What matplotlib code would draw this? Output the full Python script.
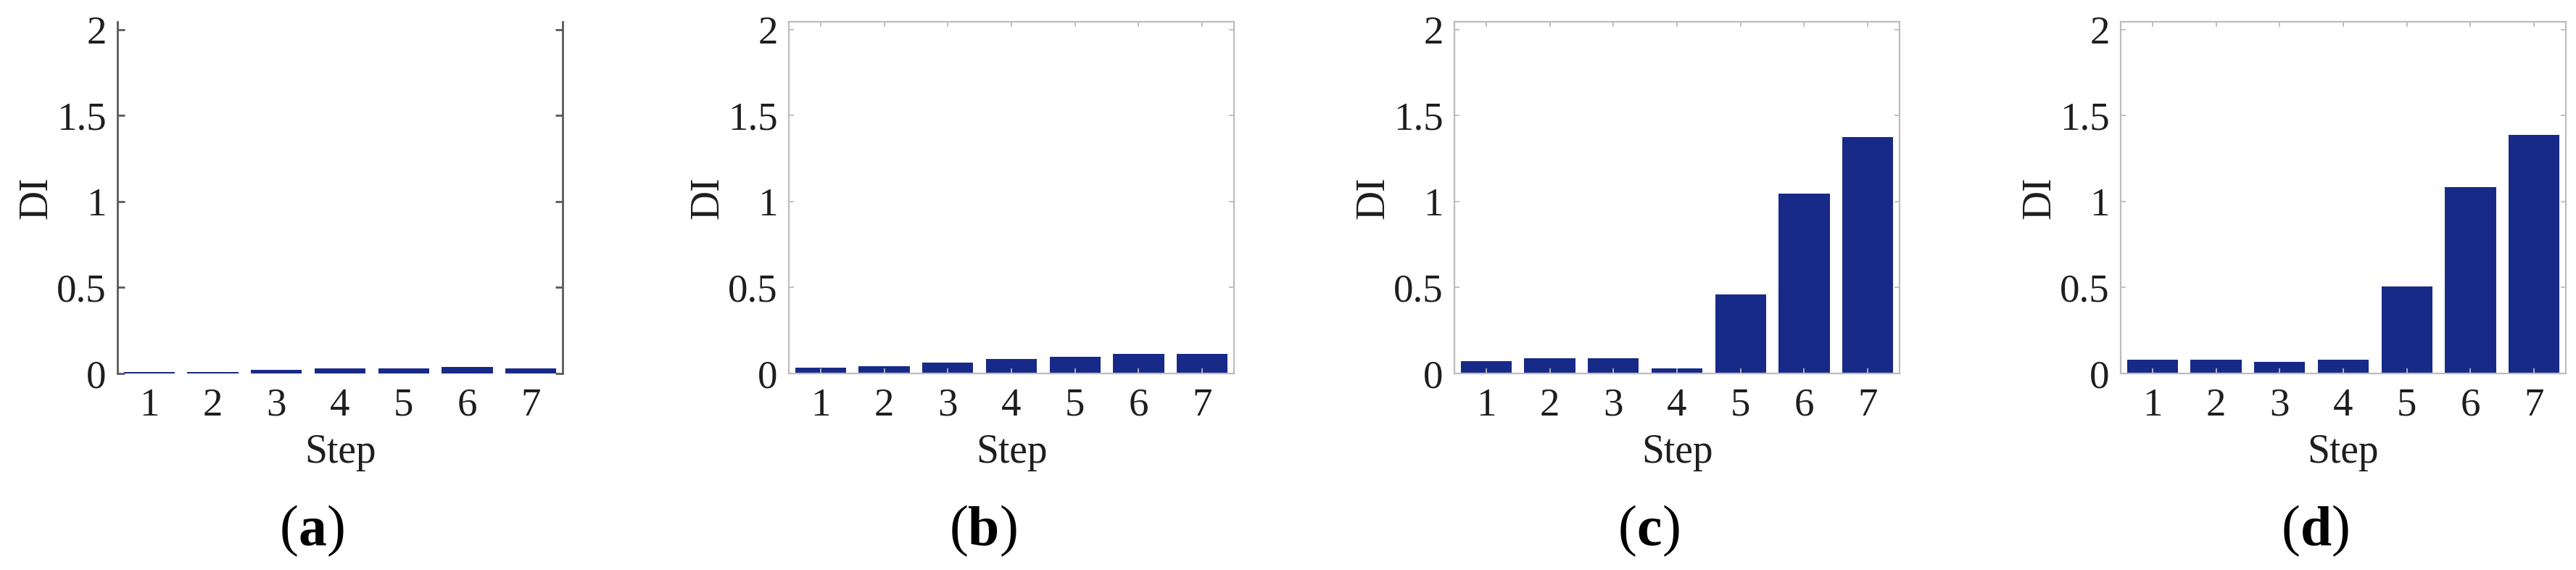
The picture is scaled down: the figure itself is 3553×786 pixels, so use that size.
import matplotlib
matplotlib.use("Agg")
import matplotlib.pyplot as plt

steps = [1, 2, 3, 4, 5, 6, 7]
di_a = [0.01, 0.01, 0.02, 0.03, 0.03, 0.04, 0.03]
di_b = [0.034, 0.042, 0.065, 0.084, 0.097, 0.116, 0.112]
di_c = [0.07, 0.087, 0.09, 0.03, 0.46, 1.046, 1.376]
di_d = [0.08, 0.08, 0.068, 0.08, 0.506, 1.084, 1.39]
panel_data = [di_a, di_b, di_c, di_d]
panel_tags = ["a", "b", "c", "d"]
yticks = [0, 0.5, 1, 1.5, 2]
ytick_labels = ["0", "0.5", "1", "1.5", "2"]

W, H = 3553, 786
plt.rcParams['font.family'] = ['Liberation Serif', 'DejaVu Serif']
fig = plt.figure(figsize=(W / 100, H / 100), dpi=100)

lefts = [162, 1088, 2006, 2925]
ax_w = 614
top_px, bot_px = 30, 515
bar_color = '#172a88'
text_color = '#1e1e1e'

for i, (vals, tag, lp) in enumerate(zip(panel_data, panel_tags, lefts)):
    ax = fig.add_axes([lp / W, (H - bot_px) / H, ax_w / W, (bot_px - top_px) / H])
    ax.bar(steps, vals, width=0.8, color=bar_color, edgecolor='none')
    ax.set_xlim(0.5, 7.5)
    ax.set_ylim(0, 2.046)
    ax.set_xticks(steps)
    ax.set_xticklabels([str(s) for s in steps])
    ax.set_yticks(yticks)
    ax.set_yticklabels(ytick_labels)
    if i == 0:
        sc = '#5a5a5a'
        for s in ['top', 'bottom']:
            ax.spines[s].set_visible(False)
        for s in ['left', 'right']:
            ax.spines[s].set_color(sc)
            ax.spines[s].set_linewidth(2.0)
        ax.tick_params(axis='y', which='both', direction='in', length=7, width=2,
                       color=sc, left=True, right=True, pad=11,
                       labelsize=39.5, labelcolor=text_color)
        ax.tick_params(axis='x', which='both', direction='in', length=0,
                       pad=14, labelsize=39.5, labelcolor=text_color)
    else:
        sc = '#bdbdbd'
        for s in ax.spines.values():
            s.set_color(sc)
            s.set_linewidth(1.6)
        ax.tick_params(axis='both', which='both', direction='in', length=5, width=1.3,
                       color=sc, top=True, right=True, labelsize=39.5,
                       labelcolor=text_color)
        ax.tick_params(axis='y', pad=11)
        ax.tick_params(axis='x', pad=14)
    ax.set_ylabel('DI', fontsize=40, color=text_color)
    ax.yaxis.set_label_coords(-86 / ax_w, 0.5)
    ax.set_xlabel('Step', fontsize=40, color=text_color)
    ax.xaxis.set_label_coords(0.5, -0.171)
    # panel tag
    cx = (lp + ax_w / 2 - 38) / W
    fig.text(cx, (H - 733) / H, '(', fontsize=56, ha='right', va='center', color='black')
    fig.text(cx, (H - 733) / H, tag, fontsize=56, fontweight='bold', ha='center',
             va='center', color='black')

# closing parentheses placed after the bold letters
fig.canvas.draw()
r = fig.canvas.get_renderer()
for t in list(fig.texts):
    if t.get_text() in panel_tags:
        bb = t.get_window_extent(r)
        x0 = bb.x0 / W
        x1 = bb.x1 / W
        t2 = [u for u in fig.texts if u.get_text() == '(' and abs(u.get_position()[0] - t.get_position()[0]) < 1e-9][0]
        t2.set_position((x0, t2.get_position()[1]))
        fig.text(x1, t.get_position()[1], ')', fontsize=56, ha='left', va='center', color='black')

fig.savefig('out.png', dpi=100, facecolor='white')
